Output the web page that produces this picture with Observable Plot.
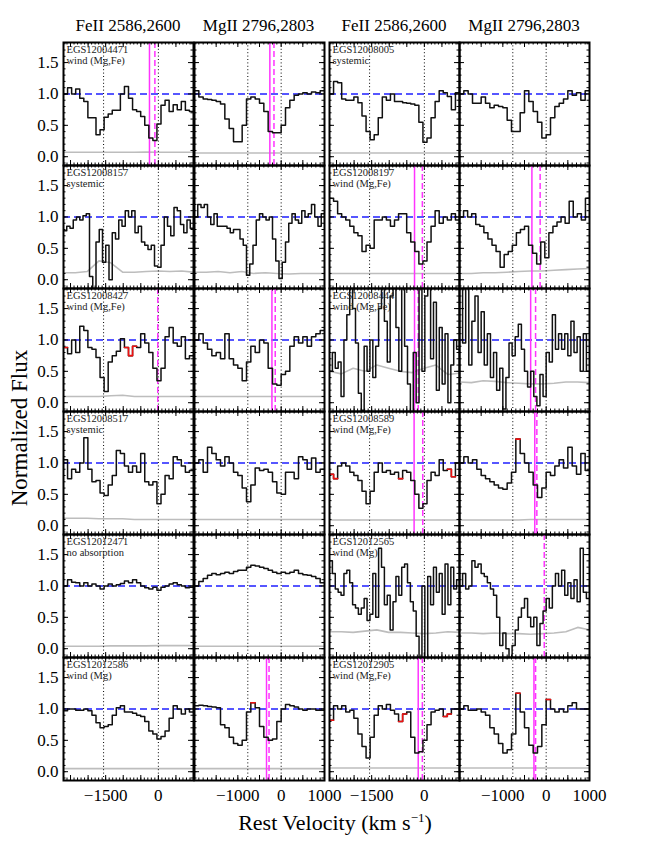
<!DOCTYPE html>
<html><head><meta charset="utf-8">
<script src="https://cdn.jsdelivr.net/npm/d3@7"></script>
<script src="https://cdn.jsdelivr.net/npm/@observablehq/plot@0.6"></script>
<style>
body{margin:0;background:#fff}
#fig{position:relative;width:648px;height:847px;font-family:"Liberation Serif","Times New Roman",serif;color:#000}
.abs{position:absolute;white-space:nowrap}
#fig svg, #fig svg text{font-family:"Liberation Serif","Times New Roman",serif !important}
</style></head>
<body><div id="fig"></div>
<script>
// ---- objects and classes ----
const leftObjs  = ["EGS12004471","EGS12008157","EGS12008427","EGS12008517","EGS12012471","EGS12012586"];
const rightObjs = ["EGS12008005","EGS12008197","EGS12008444","EGS12008589","EGS12012565","EGS12012905"];
const leftClass  = ["wind (Mg,Fe)","systemic","wind (Mg,Fe)","systemic","no absorption","wind (Mg)"];
const rightClass = ["systemic","wind (Mg,Fe)","wind (Mg,Fe)","wind (Mg,Fe)","wind (Mg)","wind (Mg,Fe)"];
const columnTitles = ["FeII 2586,2600","MgII 2796,2803","FeII 2586,2600","MgII 2796,2803"];

// ---- velocity windows, line positions, ticks ----
const feDomain = [-2700, 1000];
const mgDomain = [-2000, 1000];
const feLines = [-1559, 0];
const mgLines = [-770, 0];
const feTickLabels = [-1500, 0];
const mgTickLabels = [-1000, 0, 1000];
const yTickLabels = [0, 0.5, 1.0, 1.5];
const yDomain = [-0.14, 1.82];

// ---- normalized flux (uniform bins over each window) ----
const fe4471 = [1.0,1.1,1.0,1.08,0.93,0.88,0.62,0.62,0.35,0.43,0.63,0.68,0.74,0.74,1.0,1.12,0.93,0.75,0.72,0.64,0.5,0.3,0.26,0.52,0.82,0.9,0.72,0.83,0.75,0.88,0.74,0.72];
const mg4471 = [1.05,0.95,0.92,0.91,0.9,0.88,0.84,0.6,0.45,0.24,0.24,0.5,0.92,0.95,0.92,0.85,0.72,0.4,0.38,0.38,0.5,0.78,0.9,0.98,1.0,1.02,1.0,1.03,1.02,1.05];
const fe8005 = [1.0,1.2,1.18,0.92,0.9,0.9,0.95,0.86,0.65,0.4,0.27,0.35,0.62,0.95,0.9,1.0,0.88,0.88,0.86,0.85,0.84,0.82,0.55,0.23,0.3,0.62,0.88,1.05,1.02,0.96,0.75,1.02];
const mg8005 = [1.0,1.05,1.0,0.85,0.85,0.95,0.85,0.78,0.82,0.8,0.78,0.58,0.4,0.4,0.7,1.05,0.88,0.72,0.55,0.3,0.35,0.62,0.8,0.85,0.92,1.05,0.98,1.02,0.9,1.05];
const fe8157 = [0.78,0.85,0.82,0.95,1.0,0.95,1.02,1.05,0.05,-0.15,0.6,0.8,0.28,0.55,0.0,0.75,0.65,0.95,0.85,1.1,1.0,1.1,0.75,0.85,0.6,0.55,0.48,0.55,0.22,0.2,0.55,1.0,0.85,0.7,1.15,1.1,0.88,0.75,0.95,0.82];
const mg8157 = [1.0,1.2,1.15,1.2,1.0,0.88,1.05,0.85,0.85,0.85,0.82,0.75,0.8,0.8,0.65,0.55,0.07,0.25,0.55,0.95,1.05,1.0,0.95,1.0,0.65,0.3,0.02,0.28,0.6,0.9,1.05,0.95,0.9,1.1,1.0,1.05,1.2,1.0,0.85,1.05];
const fe8197 = [1.3,1.25,1.05,1.0,0.95,0.85,0.75,0.7,0.45,0.55,0.5,0.95,0.95,1.0,0.95,0.85,0.95,1.05,1.05,0.75,0.6,0.45,0.25,0.3,0.6,0.85,1.1,0.9,1.0,0.95,1.05,0.95];
const mg8197 = [1.0,1.1,1.0,1.05,0.88,0.85,0.75,0.65,0.55,0.45,0.2,0.4,0.45,0.55,0.75,0.8,0.85,0.55,0.42,0.25,0.6,0.35,0.75,0.85,0.92,1.0,0.9,1.25,1.0,1.05,0.95,1.3];
const fe8427 = [0.88,0.78,1.0,0.8,1.22,1.15,0.88,0.85,0.72,0.4,0.18,0.65,0.75,0.82,1.02,0.88,0.75,0.9,0.88,1.1,0.95,0.8,0.55,0.35,0.55,1.05,1.2,0.95,0.9,1.05,0.7,0.75];
const mg8427 = [1.0,1.1,0.95,0.85,0.75,0.8,0.7,1.1,0.7,0.6,0.55,0.35,0.65,0.9,0.8,1.0,0.95,0.55,0.3,0.28,0.45,0.5,0.9,1.05,0.95,1.05,0.9,1.05,1.1,1.15];
const fe8444 = [0.5,0.8,0.55,0.65,0.1,1.0,1.4,1.95,1.5,0.95,0.15,-0.12,0.9,0.5,1.0,0.4,0.9,1.5,1.95,1.3,0.65,1.7,1.95,1.2,0.5,1.95,0.9,0.3,-0.2,0.8,0.0,1.95,0.5,1.7,1.95,0.7,1.6,0.2,1.2,0.3,1.1,0.0,0.6,1.0,0.85];
const mg8444 = [1.95,0.95,1.95,0.6,1.3,1.7,0.8,1.45,0.6,1.1,0.4,0.8,0.2,0.55,-0.1,0.4,0.95,0.75,1.05,1.25,0.85,0.5,0.25,0.5,0.1,-0.05,0.45,0.1,0.8,0.65,1.4,0.85,1.1,0.85,1.1,0.75,1.3,0.8,1.05,0.5,1.1,0.5];
const fe8517 = [1.05,0.75,0.9,0.85,1.0,1.4,0.9,0.7,0.72,0.52,0.48,0.65,0.8,1.2,1.15,0.95,0.85,0.95,0.85,1.15,0.7,0.65,0.7,0.35,0.5,0.8,0.75,1.1,1.05,0.95,0.85,0.88];
const mg8517 = [1.0,1.05,0.85,1.25,1.15,1.05,0.95,1.1,1.0,0.85,0.8,0.6,0.38,0.65,0.92,0.88,0.9,0.85,0.7,0.52,0.5,0.85,0.85,0.75,1.1,1.05,0.9,1.08,0.85,0.9];
const fe8589 = [0.82,0.75,0.95,1.0,0.95,0.85,0.8,0.72,0.55,0.35,0.55,0.85,1.0,0.85,0.88,0.82,0.85,0.75,0.88,0.85,0.72,0.5,0.28,0.35,0.72,0.85,0.8,1.05,0.88,0.9,0.78,1.0];
const mg8589 = [1.0,1.1,1.0,1.05,0.9,0.8,0.75,0.7,0.65,0.6,0.58,0.68,0.85,1.38,1.15,1.0,0.85,0.65,0.45,0.6,0.85,0.8,0.95,1.05,0.92,1.25,0.95,0.82,1.15,0.88];
const fe12471 = [1.0,1.1,1.06,1.05,1.0,1.05,1.0,1.03,1.0,0.95,1.0,1.03,1.0,1.02,1.04,1.08,1.05,1.1,1.05,1.0,0.97,0.95,0.98,0.93,0.98,1.0,1.03,1.05,1.02,1.0,0.97,0.98];
const mg12471 = [1.0,1.07,1.12,1.17,1.2,1.18,1.2,1.22,1.2,1.23,1.25,1.25,1.3,1.33,1.32,1.3,1.28,1.25,1.22,1.2,1.22,1.2,1.22,1.25,1.2,1.18,1.17,1.15,1.12,1.05];
const fe12565 = [1.4,1.2,0.95,0.9,0.85,1.2,1.25,1.05,0.7,0.65,0.55,0.65,0.8,0.45,0.55,1.2,0.5,1.6,1.3,0.7,0.85,0.3,0.75,1.15,0.85,1.3,1.35,1.05,0.75,0.6,0.2,-0.2,1.0,-0.2,1.15,0.7,1.3,0.9,1.2,0.55,1.35,0.7,1.3,0.95,1.1];
const mg12565 = [1.0,1.2,0.95,1.0,1.4,1.3,1.35,1.2,1.15,1.05,0.95,0.85,0.5,0.05,0.25,0.0,-0.15,0.05,0.3,0.5,0.65,0.8,0.5,0.35,0.5,0.05,0.4,0.6,0.8,0.65,1.0,1.2,1.0,1.25,0.85,1.05,0.8,1.1,0.75,1.6,0.9,0.8];
const fe12586 = [0.97,1.0,1.0,0.98,0.98,1.0,0.97,0.9,0.78,0.7,0.72,0.75,0.9,1.02,1.05,0.95,0.95,0.93,0.9,0.88,0.8,0.65,0.6,0.52,0.56,0.65,0.85,1.05,1.0,0.92,1.0,0.95];
const mg12586 = [1.05,1.06,1.05,1.04,1.03,1.02,0.75,0.7,0.55,0.45,0.42,0.5,0.95,1.1,1.02,0.72,0.55,0.5,0.52,0.8,1.0,1.07,1.05,1.03,1.0,0.98,1.0,1.0,0.98,0.98];
const fe12905 = [0.82,1.05,1.0,1.05,0.95,0.98,0.85,0.6,0.4,0.22,0.55,0.9,1.05,1.0,1.07,0.98,0.92,0.8,0.92,0.95,0.55,0.3,0.32,0.5,0.75,0.95,0.98,1.0,0.88,0.92,1.0,1.0];
const mg12905 = [1.0,1.05,0.98,0.98,1.0,0.95,0.9,0.7,0.6,0.45,0.3,0.35,0.6,1.25,0.95,0.7,0.42,0.3,0.4,0.75,1.15,1.0,0.95,1.0,0.95,1.05,1.1,1.0,1.0,1.0];

// ---- 1-sigma error spectra (evenly spaced samples over each window) ----
const fe4471e = [0.07,0.07,0.07,0.07,0.07,0.07,0.07,0.075,0.07,0.07,0.07,0.07];
const mg4471e = [0.06,0.06,0.06,0.06,0.06,0.06,0.06,0.06,0.06,0.06,0.06,0.06];
const fe8005e = [0.06,0.06,0.06,0.06,0.06,0.06,0.06,0.06,0.06,0.06,0.06,0.06];
const mg8005e = [0.06,0.06,0.06,0.06,0.06,0.06,0.06,0.06,0.06,0.06,0.06,0.06];
const fe8157e = [0.11,0.11,0.13,0.3,0.27,0.12,0.12,0.13,0.14,0.13,0.14,0.12];
const mg8157e = [0.12,0.12,0.13,0.11,0.13,0.1,0.11,0.1,0.09,0.1,0.1,0.1];
const fe8197e = [0.1,0.1,0.1,0.1,0.1,0.1,0.1,0.1,0.1,0.1,0.1,0.1];
const mg8197e = [0.1,0.1,0.11,0.11,0.12,0.13,0.14,0.14,0.15,0.16,0.17,0.18];
const fe8427e = [0.1,0.1,0.1,0.1,0.11,0.12,0.1,0.1,0.1,0.1,0.1,0.1];
const mg8427e = [0.1,0.1,0.1,0.1,0.1,0.1,0.1,0.1,0.1,0.1,0.1,0.1];
const fe8444e = [0.5,0.46,0.55,0.5,0.6,0.55,0.5,0.48,0.55,0.6,0.45,0.47];
const mg8444e = [0.33,0.32,0.35,0.34,0.32,0.31,0.3,0.3,0.31,0.33,0.33,0.32];
const fe8517e = [0.12,0.12,0.12,0.11,0.11,0.11,0.1,0.1,0.1,0.1,0.1,0.1];
const mg8517e = [0.1,0.1,0.1,0.1,0.1,0.1,0.1,0.1,0.1,0.1,0.1,0.1];
const fe8589e = [0.09,0.09,0.09,0.09,0.09,0.09,0.09,0.09,0.09,0.09,0.09,0.09];
const mg8589e = [0.09,0.09,0.09,0.09,0.09,0.09,0.1,0.1,0.1,0.1,0.1,0.1];
const fe12471e = [0.04,0.04,0.04,0.04,0.045,0.045,0.045,0.045,0.05,0.05,0.05,0.05];
const mg12471e = [0.04,0.04,0.04,0.04,0.04,0.04,0.04,0.04,0.04,0.04,0.04,0.04];
const fe12565e = [0.27,0.27,0.26,0.28,0.3,0.26,0.26,0.25,0.24,0.25,0.27,0.26];
const mg12565e = [0.25,0.25,0.24,0.25,0.24,0.24,0.23,0.24,0.25,0.27,0.34,0.3];
const fe12586e = [0.05,0.05,0.05,0.05,0.05,0.05,0.05,0.05,0.05,0.05,0.05,0.05];
const mg12586e = [0.05,0.05,0.05,0.05,0.05,0.05,0.05,0.05,0.05,0.05,0.05,0.05];
const fe12905e = [0.06,0.06,0.06,0.06,0.06,0.06,0.06,0.06,0.06,0.06,0.06,0.06];
const mg12905e = [0.06,0.06,0.06,0.06,0.06,0.06,0.06,0.06,0.06,0.06,0.06,0.06];

// ---- bins flagged in red ----
const red8427fe = [0,15,16,17];
const red8589fe = [0,1,17,29,30];
const red8589mg = [13];
const red12586mg = [13];
const red12905fe = [0,17,18,28,29];
const red12905mg = [13,20];

// ---- outflow centroid (solid magenta) and second velocity (dashed magenta), km/s ----
const windFe = {EGS12004471:[-253], EGS12008197:[-280], EGS12008444:[-280], EGS12008589:[-292], EGS12012905:[-175]};
const dashFe = {EGS12004471:[-99], EGS12008427:[-17], EGS12008197:[-57], EGS12008444:[-175], EGS12008589:[-46], EGS12012905:[-57]};
const windMg = {EGS12004471:[-261], EGS12008427:[-213], EGS12012586:[-338], EGS12008197:[-329], EGS12008444:[-358], EGS12008589:[-263], EGS12012905:[-282]};
const dashMg = {EGS12004471:[-166], EGS12008427:[-137], EGS12012586:[-280], EGS12008197:[-139], EGS12008444:[-244], EGS12008589:[-215], EGS12012565:[-44], EGS12012905:[-244]};

const feFlux = {EGS12004471:fe4471,EGS12008005:fe8005,EGS12008157:fe8157,EGS12008197:fe8197,EGS12008427:fe8427,EGS12008444:fe8444,EGS12008517:fe8517,EGS12008589:fe8589,EGS12012471:fe12471,EGS12012565:fe12565,EGS12012586:fe12586,EGS12012905:fe12905};
const mgFlux = {EGS12004471:mg4471,EGS12008005:mg8005,EGS12008157:mg8157,EGS12008197:mg8197,EGS12008427:mg8427,EGS12008444:mg8444,EGS12008517:mg8517,EGS12008589:mg8589,EGS12012471:mg12471,EGS12012565:mg12565,EGS12012586:mg12586,EGS12012905:mg12905};
const feErr = {EGS12004471:fe4471e,EGS12008005:fe8005e,EGS12008157:fe8157e,EGS12008197:fe8197e,EGS12008427:fe8427e,EGS12008444:fe8444e,EGS12008517:fe8517e,EGS12008589:fe8589e,EGS12012471:fe12471e,EGS12012565:fe12565e,EGS12012586:fe12586e,EGS12012905:fe12905e};
const mgErr = {EGS12004471:mg4471e,EGS12008005:mg8005e,EGS12008157:mg8157e,EGS12008197:mg8197e,EGS12008427:mg8427e,EGS12008444:mg8444e,EGS12008517:mg8517e,EGS12008589:mg8589e,EGS12012471:mg12471e,EGS12012565:mg12565e,EGS12012586:mg12586e,EGS12012905:mg12905e};
const feRed = {EGS12008427:red8427fe, EGS12008589:red8589fe, EGS12012905:red12905fe};
const mgRed = {EGS12008589:red8589mg, EGS12012586:red12586mg, EGS12012905:red12905mg};

// ---- layout ----
const fig = document.getElementById("fig");
const PW = 130, PH = 123;
const colX = [63, 193.5, 329, 459];
const rowY = [42, 165, 288, 411, 534, 657];
const SERIF = "Liberation Serif";

function steps(flux, domain) {
  const n = flux.length, dv = (domain[1] - domain[0]) / n;
  const pts = flux.map((f, i) => ({v: domain[0] + i * dv, f}));
  pts.push({v: domain[1], f: flux[n - 1]});
  return pts;
}
function redRuns(flux, domain, idx) {
  if (!idx) return [];
  const n = flux.length, dv = (domain[1] - domain[0]) / n;
  const runs = [];
  let cur = null;
  idx.forEach(i => {
    if (cur && i === cur.end + 1) cur.end = i; else { cur = {start: i, end: i}; runs.push(cur); }
  });
  return runs.map(r => {
    const pts = [];
    for (let i = r.start; i <= r.end; i++) pts.push({v: domain[0] + i * dv, f: flux[i]});
    pts.push({v: domain[0] + (r.end + 1) * dv, f: flux[r.end]});
    return pts;
  });
}
function errPts(err, domain) {
  const n = err.length;
  return err.map((e, i) => ({v: domain[0] + i * (domain[1] - domain[0]) / (n - 1), e}));
}

function panel(r, c) {
  const isLeft = c < 2, isFe = c % 2 === 0;
  const id = isLeft ? leftObjs[r] : rightObjs[r];
  const cls = isLeft ? leftClass[r] : rightClass[r];
  const domain = isFe ? feDomain : mgDomain;
  const flux = (isFe ? feFlux : mgFlux)[id];
  const err = (isFe ? feErr : mgErr)[id];
  const red = (isFe ? feRed : mgRed)[id];
  const wind = (isFe ? windFe : windMg)[id] || [];
  const dash = (isFe ? dashFe : dashMg)[id] || [];
  const lines = isFe ? feLines : mgLines;
  const ml = c === 0 ? 63 : 0;
  const mb = r === 5 ? 64 : 0;
  const majorX = d3.range(Math.ceil(domain[0] / 500) * 500, domain[1] + 1, 500);
  const minorX = d3.range(Math.ceil(domain[0] / 100) * 100, domain[1] + 1, 100);
  const majorY = [0, 0.5, 1.0, 1.5];
  const minorY = d3.range(-0.1, 1.81, 0.1);
  const marks = [
    Plot.line(errPts(err, domain), {x: "v", y: "e", stroke: "#bdbdbd", strokeWidth: 1.6, clip: true}),
    Plot.ruleY([1], {stroke: "#1f1fff", strokeWidth: 1.6, strokeDasharray: "7,4"}),
    Plot.ruleX(lines, {stroke: "black", strokeWidth: 1, strokeDasharray: "1,2.4"}),
    Plot.ruleX(wind, {stroke: "#ff33ff", strokeWidth: 1.5}),
    Plot.ruleX(dash, {stroke: "#ff33ff", strokeWidth: 1.5, strokeDasharray: "6,3"}),
    Plot.line(steps(flux, domain), {x: "v", y: "f", curve: "step-after", stroke: "#111", strokeWidth: 1.5, clip: true}),
    ...redRuns(flux, domain, red).map(p => Plot.line(p, {x: "v", y: "f", curve: "step-after", stroke: "#ee1111", strokeWidth: 1.6, clip: true})),
    Plot.tickX(minorX, {x: d => d, insetTop: PH - 2.5, stroke: "black"}),
    Plot.tickX(minorX, {x: d => d, insetBottom: PH - 2.5, stroke: "black"}),
    Plot.tickX(majorX, {x: d => d, insetTop: PH - 5, stroke: "black"}),
    Plot.tickX(majorX, {x: d => d, insetBottom: PH - 5, stroke: "black"}),
    Plot.tickY(minorY, {y: d => d, insetRight: PW - 2.5, stroke: "black"}),
    Plot.tickY(minorY, {y: d => d, insetLeft: PW - 2.5, stroke: "black"}),
    Plot.tickY(majorY, {y: d => d, insetRight: PW - 5, stroke: "black"}),
    Plot.tickY(majorY, {y: d => d, insetLeft: PW - 5, stroke: "black"}),
    Plot.frame({stroke: "black", strokeWidth: 2})
  ];
  if (isFe) marks.push(Plot.text([id + "\n" + cls], {text: d => d, frameAnchor: "top-left", dx: 3, dy: 3, lineAnchor: "top", fontSize: 10.5, lineHeight: 1.05, fill: "#222", fontFamily: SERIF}));
  if (c === 0) marks.push(Plot.axisY(yTickLabels, {anchor: "left", tickSize: 0, tickPadding: 5, tickFormat: d3.format(".1f"), fontSize: 17, fontFamily: SERIF, label: null}));
  if (r === 5) marks.push(Plot.axisX(isFe ? feTickLabels : mgTickLabels, {anchor: "bottom", tickSize: 0, tickPadding: 8, tickFormat: d3.format("d"), fontSize: 17, fontFamily: SERIF, label: null}));
  const svg = Plot.plot({
    width: PW + ml, height: PH + mb,
    marginLeft: ml, marginRight: 0, marginTop: 0, marginBottom: mb,
    x: {domain, axis: null},
    y: {domain: yDomain, axis: null},
    style: {background: "transparent", overflow: "visible", fontSize: "17px", color: "black"},
    marks
  });
  svg.style.position = "absolute";
  svg.style.left = (colX[c] - ml) + "px";
  svg.style.top = rowY[r] + "px";
  fig.appendChild(svg);
}

for (let r = 0; r < 6; r++) for (let c = 0; c < 4; c++) panel(r, c);

// column titles
columnTitles.forEach((t, c) => {
  const d = document.createElement("div");
  d.className = "abs";
  d.textContent = t;
  d.style.cssText += `left:${colX[c]}px;width:${PW}px;top:16px;text-align:center;font-size:17px;`;
  fig.appendChild(d);
});
// axis titles
const xt = document.createElement("div");
xt.className = "abs";
xt.innerHTML = "Rest Velocity (km s<sup style='font-size:13px;line-height:0'>−1</sup>)";
xt.style.cssText += "left:0;width:670px;top:810px;text-align:center;font-size:22px;";
fig.appendChild(xt);
const yt = document.createElement("div");
yt.className = "abs";
yt.textContent = "Normalized Flux";
yt.style.cssText += "left:20px;top:428px;font-size:23px;transform:translate(-50%,-50%) rotate(-90deg);";
fig.appendChild(yt);
</script>
</body></html>
